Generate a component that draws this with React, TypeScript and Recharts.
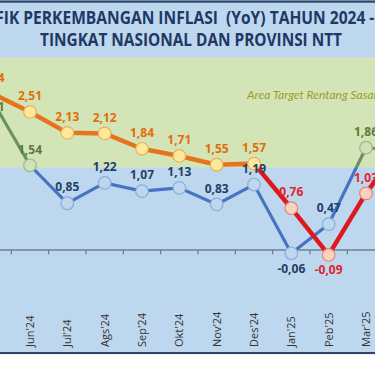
import React from 'react';
import { ComposedChart, Line, XAxis, YAxis, ReferenceArea, ReferenceLine, LabelList } from 'recharts';

// months (first and last ones fall just outside the visible crop)
const months = ["Mei'24", "Jun'24", "Jul'24", "Ags'24", "Sep'24", "Okt'24", "Nov'24", "Des'24", "Jan'25", "Peb'25", "Mar'25", "Apr'25"];
const nasional = [2.84, 2.51, 2.13, 2.12, 1.84, 1.71, 1.55, 1.57, 0.76, -0.09, 1.03, 1.95];
const ntt = [2.71, 1.54, 0.85, 1.22, 1.07, 1.13, 0.83, 1.19, -0.06, 0.47, 1.86, 1.8];
const targetBand = [1.5, 3.5];

const data = months.map((m, i) => ({ idx: i, month: m, nasional: nasional[i], ntt: ntt[i] }));
const betweenTicks = months.map((_, i) => i + 0.5);

const fmt = (v: number) => v.toFixed(2).replace('.', ',');

// where the stroke switches colour, as a fraction of the line's bounding box
const splitAt = (vals: number[]) => {
  const max = Math.max(...vals);
  const min = Math.min(...vals);
  return (max - targetBand[0]) / (max - min);
};

const NAT = { hi: '#E8731F', lo: '#DF1820', hiFill: '#FFE89A', hiStroke: '#E6B35A', loFill: '#FAD2BE', loStroke: '#E2837A', hiText: '#E46C0A', loText: '#E3232C' };
const PROV = { hi: '#6C9162', lo: '#4773C3', hiFill: '#CFE3BA', hiStroke: '#9AB78C', loFill: '#BDD7EE', loStroke: '#8BABD9', hiText: '#5C7B3A', loText: '#243F66' };

const makeDot = (key: string, c: typeof NAT) => (props: any) => {
  const { cx, cy, payload, index } = props;
  const v = payload[key];
  const hi = v >= targetBand[0];
  return (
    <circle key={`${key}-${index}`} cx={cx} cy={cy} r={6.3}
      fill={hi ? c.hiFill : c.loFill} stroke={hi ? c.hiStroke : c.loStroke} strokeWidth={1.2} />
  );
};

const makeLabel = (key: string, c: typeof NAT) => (props: any) => {
  const { x, y, value, index } = props;
  const v = Number(value);
  const below = v < 0;
  // the first provincial label sits lower, clear of the national one
  let ly = below ? y + 15 : y - 16;
  if (key === 'ntt' && index === 0) ly = y + 6;
  return (
    <text key={`${key}-lbl-${index}`} x={x} y={ly} dy="0.35em" textAnchor="middle"
      fill={v >= targetBand[0] ? c.hiText : c.loText} fontSize={12} fontWeight={700} fontFamily="Open Sans">
      {fmt(v)}
    </text>
  );
};

const MonthTick = (props: any) => {
  const { x, y, payload } = props;
  const ty = y + 42;
  return (
    <text x={x} y={ty} dy="0.35em" transform={`rotate(-90, ${x}, ${ty})`} textAnchor="start"
      fill="#333333" fontSize={11} fontFamily="Open Sans">
      {months[payload.value]}
    </text>
  );
};

const App = () => {
  const natSplit = splitAt(nasional);
  const nttSplit = splitAt(ntt);
  return (
    <div style={{ position: 'relative', width: 375, height: 366, overflow: 'hidden', background: '#BDD7EE' }}>
      <style>{'body{margin:0}'}</style>
      <ComposedChart width={448} height={366} data={data} style={{ position: 'absolute', left: -26, top: 0 }}
        margin={{ top: 57.5, right: 0, bottom: 11, left: 0 }}>
        <defs>
          <linearGradient id="natGrad" x1="0" y1="0" x2="0" y2="1">
            <stop offset={natSplit} stopColor={NAT.hi} />
            <stop offset={natSplit} stopColor={NAT.lo} />
          </linearGradient>
          <linearGradient id="nttGrad" x1="0" y1="0" x2="0" y2="1">
            <stop offset={nttSplit} stopColor={PROV.hi} />
            <stop offset={nttSplit} stopColor={PROV.lo} />
          </linearGradient>
        </defs>
        <XAxis dataKey="idx" type="number" domain={[-0.5, months.length - 0.5]} ticks={months.map((_, i) => i)}
          interval={0} axisLine={false} tickLine={false} tickSize={0} tickMargin={0} height={50} tick={<MonthTick />} />
        <YAxis type="number" domain={[-1, 3.5]} hide allowDataOverflow />
        <ReferenceArea x1={-0.5} x2={months.length - 0.5} y1={targetBand[0]} y2={targetBand[1]} fill="#D3E5B6" fillOpacity={1} stroke="none" />
        <ReferenceLine y={0} stroke="#6F7F92" strokeWidth={1.3} />
        {betweenTicks.map((t) => (
          <ReferenceLine key={t} segment={[{ x: t, y: 0 }, { x: t, y: -0.075 }]} stroke="#6F7F92" strokeWidth={1.3} />
        ))}
        <Line dataKey="ntt" stroke="url(#nttGrad)" strokeWidth={3.2} dot={makeDot('ntt', PROV)} activeDot={false} isAnimationActive={false}>
          <LabelList dataKey="ntt" content={makeLabel('ntt', PROV)} />
        </Line>
        <Line dataKey="nasional" stroke="url(#natGrad)" strokeWidth={4.5} dot={makeDot('nasional', NAT)} activeDot={false} isAnimationActive={false}>
          <LabelList dataKey="nasional" content={makeLabel('nasional', NAT)} />
        </Line>
      </ComposedChart>
      <svg width={375} height={366} style={{ position: 'absolute', left: 0, top: 0, pointerEvents: 'none' }}>
        <rect x={0} y={0.5} width={375} height={2.2} fill="#2C4566" />
        <text x={-37} y={24} textLength={451} lengthAdjust="spacingAndGlyphs" fill="#1F3864" fontSize={17}
          fontWeight={700} fontFamily="Open Sans" style={{ whiteSpace: 'pre' }}>
          GRAFIK PERKEMBANGAN INFLASI  (YoY) TAHUN 2024 - 2025
        </text>
        <text x={40} y={46} textLength={302} lengthAdjust="spacingAndGlyphs" fill="#1F3864" fontSize={17}
          fontWeight={700} fontFamily="Open Sans">
          TINGKAT NASIONAL DAN PROVINSI NTT
        </text>
        <text x={247} y={99} fill="#9E9B2E" fontSize={12} fontStyle="italic" fontFamily="Lato">
          Area Target Rentang Sasaran Inflasi 2,5±1%
        </text>
        <rect x={0} y={352} width={375} height={2.2} fill="#2C4566" />
        <rect x={0} y={354.2} width={375} height={12} fill="#FFFFFF" />
      </svg>
    </div>
  );
};

export default App;
